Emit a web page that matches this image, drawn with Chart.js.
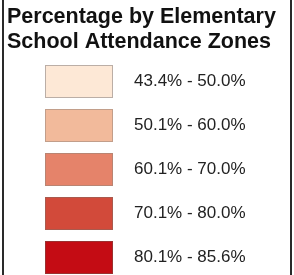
<!DOCTYPE html>
<html>
<head>
<meta charset="utf-8">
<script src="https://cdn.jsdelivr.net/npm/chart.js@4"></script>
<style>
  html, body { margin: 0; padding: 0; background: #fff; overflow: hidden; }
  body { width: 294px; height: 275px; position: relative; }
  #barCanvas { position: absolute; left: 0; top: 0; }
  .frame { position: absolute; left: 2px; top: 0; width: 286px; height: 275px;
           border-left: 2px solid #2a2a2a; border-right: 2px solid #2a2a2a; pointer-events: none; }
</style>
</head>
<body>
<canvas id="barCanvas" width="294" height="280"></canvas>
<div class="frame"></div>
<script>
// legend classes (percent ranges)
const lows = [43.4, 50.1, 60.1, 70.1, 80.1]
const highs = [50.0, 60.0, 70.0, 80.0, 85.6]
const fills = ["#fde8d6", "#f2ba9b", "#e5836a", "#d24a3a", "#c40c14"]
const edges = ["#bbaea6", "#c29e8a", "#b98472", "#a95a4e", "#9b3030"]
const titleLines = ["Percentage by Elementary", "School Attendance Zones"]

const labels = lows.map((lo, i) => lo.toFixed(1) + "% - " + highs[i].toFixed(1) + "%")
const swatches = lows.map(() => 1)

const fontFamily = "'Liberation Sans', Arial, sans-serif"

const barCanvas = document.getElementById("barCanvas")
const barChart = new Chart(barCanvas, {
    type: "bar",
    data: {
        labels: labels,
        datasets: [{
            data: swatches,
            xAxisID: "x",
            yAxisID: "y",
            backgroundColor: fills,
            borderColor: edges,
            borderWidth: 1,
            borderSkipped: false,
            categoryPercentage: 1,
            barPercentage: 0.75
        }]
    },
    options: {
        indexAxis: "y",
        responsive: false,
        animation: false,
        layout: { padding: { left: 7, right: 0, top: 0, bottom: 0.5 } },
        plugins: {
            legend: { display: false },
            tooltip: { enabled: false },
            title: {
                display: true,
                text: titleLines,
                align: "start",
                color: "#111",
                font: { family: fontFamily, size: 21.5, weight: "bold", lineHeight: 25 / 21.5 },
                padding: { top: 5, bottom: 4.5 }
            }
        },
        scales: {
            y: {
                type: "category",
                position: "right",
                grid: { display: false, drawTicks: false },
                border: { display: false },
                ticks: {
                    color: "#222",
                    padding: 21,
                    font: { family: fontFamily, size: 17 }
                },
                // keep label padding from eating the bottom rows
                afterFit: s => { s.width = 181; s.paddingTop = 0; s.paddingBottom = 0 }
            },
            yPad: {
                type: "category",
                axis: "y",
                position: "left",
                grid: { display: false, drawTicks: false },
                border: { display: false },
                ticks: { display: false },
                afterFit: s => { s.width = 38; s.paddingTop = 0; s.paddingBottom = 0 }
            },
            x: {
                display: false,
                min: 0,
                max: 1
            }
        }
    }
})
</script>
</body>
</html>
